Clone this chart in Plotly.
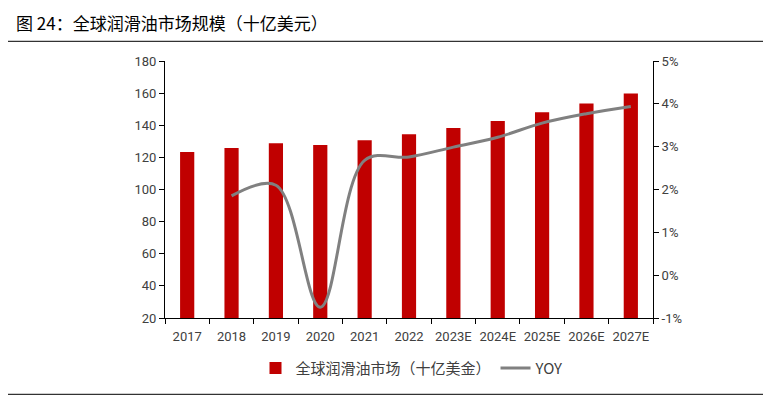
import plotly.graph_objects as go

# data
years = ["2017", "2018", "2019", "2020", "2021", "2022",
         "2023E", "2024E", "2025E", "2026E", "2027E"]
market = [123.3, 125.8, 128.8, 127.7, 130.6, 134.4,
          138.3, 142.6, 148.1, 153.5, 159.7]
yoy = [None, 1.85, 2.1, -0.75, 2.68, 2.76,
       2.99, 3.22, 3.55, 3.77, 3.94]
yoy_ticks = [-1, 0, 1, 2, 3, 4, 5]
yoy_labels = ["-1%", "0%", "1%", "2%", "3%", "4%", "5%"]

# page body adds an 8px margin, so work in shifted pixel coords
OFF = 8
W, H = 771 - OFF, 405 - OFF
L, R, T, B = 165 - OFF, 653 - OFF, 60.7 - OFF, 317.7 - OFF


def px(x):
    return (x - OFF - L) / (R - L)


def py(y):
    return (B - (y - OFF)) / (B - T)


bar = go.Bar(x=years, y=market, name="全球润滑油市场（十亿美金）",
             marker=dict(color="#C00000", line=dict(width=0)), width=0.32)
line = go.Scatter(x=years, y=yoy, name="YOY", yaxis="y2", mode="lines",
                  line=dict(color="#808080", width=3, shape="spline", smoothing=1.0),
                  connectgaps=False)

fig = go.Figure(data=[bar, line])

tickfont = dict(family="Liberation Sans Narrow, Roboto, sans-serif", size=13, color="#404040")

fig.update_layout(
    width=W, height=H,
    margin=dict(l=L, r=W - R, t=T, b=H - B),
    paper_bgcolor="white", plot_bgcolor="white",
    showlegend=True,
    legend=dict(orientation="h", x=px(412), xanchor="center", y=py(368), yanchor="middle",
                font=dict(family="Noto Sans CJK SC", size=15, color="#404040"),
                itemwidth=30, tracegroupgap=0),
    xaxis=dict(showline=True, linecolor="#000000", linewidth=1, ticks="outside",
               tickson="boundaries", ticklen=5, tickcolor="#000000", tickfont=tickfont,
               ticklabelstandoff=6, tickangle=0, showgrid=False, zeroline=False),
    yaxis=dict(range=[20, 180], dtick=20, showline=True, linecolor="#000000", linewidth=1,
               ticks="outside", ticklen=5, tickcolor="#000000", tickfont=tickfont,
               showgrid=False, zeroline=False),
    yaxis2=dict(range=[-1, 5], tickvals=yoy_ticks, ticktext=yoy_labels,
                overlaying="y", side="right",
                showline=True, linecolor="#000000", linewidth=1, ticks="outside",
                ticklen=5, tickcolor="#000000", tickfont=tickfont,
                showgrid=False, zeroline=False),
    annotations=[dict(text="图 24：全球润滑油市场规模（十亿美元）", xref="paper", yref="paper",
                      x=px(14), y=py(22), xanchor="left", yanchor="middle", showarrow=False,
                      font=dict(family="Noto Sans CJK SC", size=17, color="#000000"))],
    shapes=[
        dict(type="line", xref="paper", yref="paper", x0=px(8), x1=px(771),
             y0=py(41), y1=py(41), line=dict(color="#000000", width=1)),
        dict(type="line", xref="paper", yref="paper", x0=px(0), x1=px(771),
             y0=py(394), y1=py(394), line=dict(color="#000000", width=1)),
    ],
)

fig.write_html("out.html")
